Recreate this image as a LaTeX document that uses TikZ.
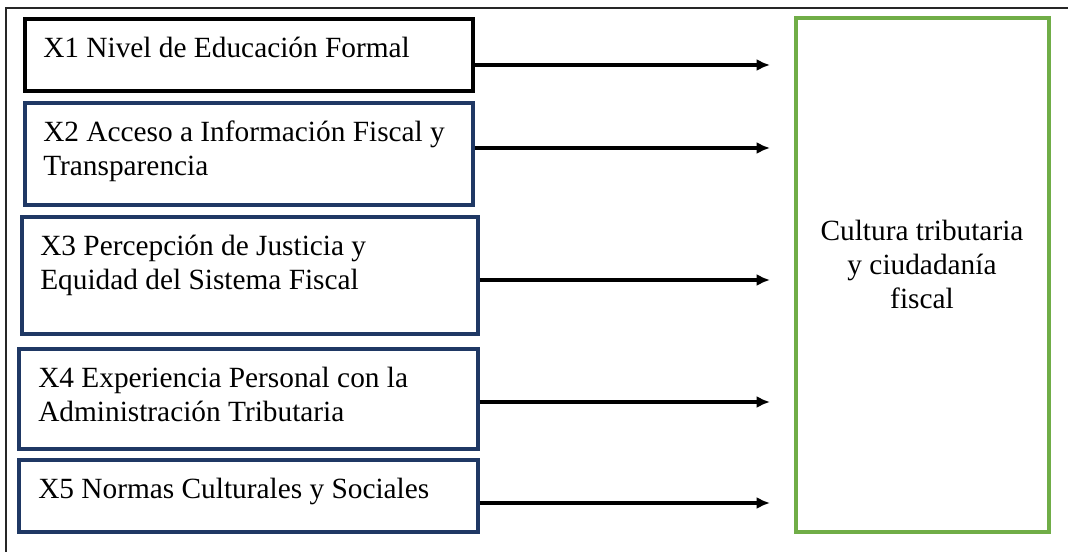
\documentclass[tikz,border=0pt]{standalone}
\usepackage{fontspec}
\setmainfont{Liberation Serif}
\usetikzlibrary{arrows.meta}
\definecolor{navy}{HTML}{1F3864}
\definecolor{leafgreen}{HTML}{70AD47}
\begin{document}
\begin{tikzpicture}[x=0.75pt,y=-0.75pt,
  factor/.style={draw=navy,line width=2.3pt,inner sep=0pt},
  factortext/.style={anchor=north west,inner sep=0pt,align=left,font=\fontsize{22}{25.5}\selectfont},
  link/.style={line width=2.5pt,-{Latex[length=10pt,width=9pt]}}]

\def\PX{0.75pt}
\def\TIP{770}

\useasboundingbox (0,0) rectangle (1068,552);

% frame
\draw[line width=1.4pt,black!85] (6,552) -- (6,8) -- (1068,8);

% factors
\node at (249,55) [factor,draw=black,line width=2.6pt,minimum width=448*\PX,minimum height=72*\PX] (x1) {};
\node at (249,154) [factor,minimum width=448*\PX,minimum height=102*\PX] (x2) {};
\node at (250,275.5) [factor,minimum width=456*\PX,minimum height=117*\PX] (x3) {};
\node at (248.5,399) [factor,minimum width=459*\PX,minimum height=100*\PX] (x4) {};
\node at (248.5,496) [factor,minimum width=459*\PX,minimum height=72*\PX] (x5) {};

\node at (43,33.2) [factortext] (t1) {\strut X1 Nivel de Educación Formal};
\node at (43,117.2) [factortext] (t2) {\strut X2 Acceso a Información Fiscal y\\Transparencia};
\node at (40,231.2) [factortext] (t3) {\strut X3 Percepción de Justicia y\\Equidad del Sistema Fiscal};
\node at (38,363.2) [factortext] (t4) {\strut X4 Experiencia Personal con la\\Administración Tributaria};
\node at (38,474.2) [factortext] (t5) {\strut X5 Normas Culturales y Sociales};

% outcome
\node at (922.5,275) [draw=leafgreen,line width=2.3pt,inner sep=0pt,minimum width=253*\PX,minimum height=514*\PX] (y) {};
\node at (922,264) [align=center,inner sep=0pt,font=\fontsize{22}{25.5}\selectfont] (ty) {Cultura tributaria\\y ciudadanía\\fiscal};

% arrows
\coordinate (e1) at (\TIP,65);
\coordinate (e2) at (\TIP,148);
\coordinate (e3) at (\TIP,280);
\coordinate (e4) at (\TIP,402);
\coordinate (e5) at (\TIP,503);
\draw[link] (x1.east |- e1) -- (e1);
\draw[link] (x2.east |- e2) -- (e2);
\draw[link] (x3.east |- e3) -- (e3);
\draw[link] (x4.east |- e4) -- (e4);
\draw[link] (x5.east |- e5) -- (e5);

\end{tikzpicture}
\end{document}
